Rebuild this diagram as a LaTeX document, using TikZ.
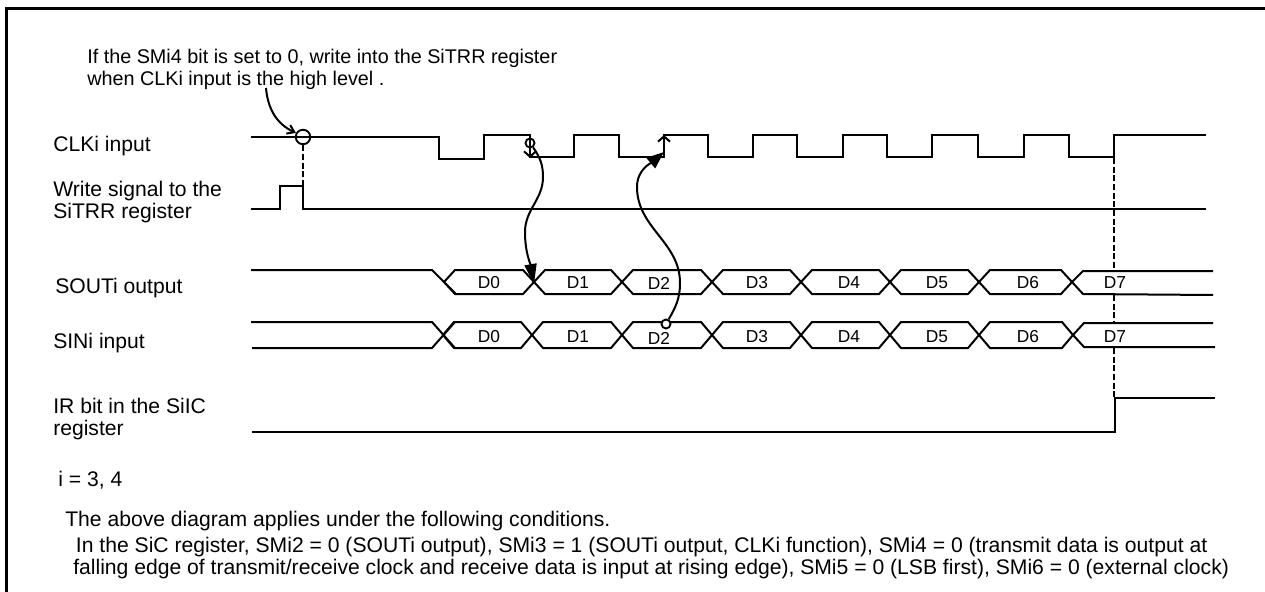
\documentclass[tikz,border=0pt]{standalone}
\usepackage{fontspec}
\setmainfont{Liberation Sans}
\usetikzlibrary{arrows.meta}
\tikzset{
  sig/.style={line width=1.6pt},
  bus/.style={line width=1.5pt, line join=miter},
  wave/.style={line width=1.5pt},
  guide/.style={line width=1.3pt, dash pattern=on 4.5pt off 2pt},
  txt/.style={inner sep=0pt, anchor=north west, align=left, font=\fontsize{15.85}{16.3}\selectfont},
  notetxt/.style={txt, font=\fontsize{14.85}{16.3}\selectfont},
  datatxt/.style={inner sep=0pt, font=\fontsize{13}{15}\selectfont},
  ring/.style={draw, circle, line width=1.4pt, inner sep=0pt, minimum size=#1}
}
\begin{document}
\begin{tikzpicture}[x=0.75pt, y=-0.75pt]
\useasboundingbox (0,0) rectangle (1265,592);
\draw[line width=2.4pt] (6.5,592) -- (6.5,8.5) -- (1265,8.5);

% labels
\node[notetxt] (note) at (87,49) {If the SMi4 bit is set to 0, write into the SiTRR register\\when CLKi input is the high level .};
\node[txt] (clklbl) at (53,136) {CLKi input};
\node[txt] (wrlbl) at (53,181) {Write signal to the\\SiTRR register};
\node[txt] (soutlbl) at (55,278) {SOUTi output};
\node[txt] (sinlbl) at (53,333) {SINi input};
\node[txt] (irlbl) at (53,398) {IR bit in the SiIC\\register};
\node[txt] (ilbl) at (58,471) {i = 3, 4};
\node[txt] (cond) at (65,511) {The above diagram applies under the following conditions.};
\node[txt] (condb) at (73,537) {\hspace{2pt}In the SiC register, SMi2 = 0 (SOUTi output), SMi3 = 1 (SOUTi output, CLKi function), SMi4 = 0 (transmit data is output at\\falling edge of transmit/receive clock and receive data is input at rising edge), SMi5 = 0 (LSB first), SMi6 = 0 (external clock)};

% CLKi and write signal
\draw[sig] (251,137) -| (439,159) -| (484,135) -| (530,157) -| (574,135) -| (619,157) -| (664,135)
  -| (708,157) -| (753,135) -| (797,157) -| (843,135) -| (887,157) -| (932,135) -| (978,157)
  -| (1024,135) -| (1069,157) -| (1114,135) -- (1206,135);
\draw[sig] (251,209) -| (280,186) -| (303,209) -- (1206,209);
\draw[sig] (252,432) -| (1115,398) -- (1215,398);

% SOUTi
\draw[bus] (251,270) -- (432,270) -- (456,294);
\foreach \xa/\xb in {444/534,534/622,622/712,712/801,801/890,890/979,979/1072}
  \draw[bus] (\xa,282) -- (\xa+11,270) -- (\xb-11,270) -- (\xb,282) -- (\xb-11,294) -- (\xa+11,294) -- cycle;
\draw[bus] (1213,271) -- (1083,271) -- (1072,282) -- (1083,294) -- (1213,295);

% SINi
\draw[bus] (251,322) -- (432,322) -- (455,348);
\draw[bus] (252,348) -- (432,348) -- (455,322);
\foreach \xa/\xb in {443/532,532/622,622/712,712/801,801/890,890/979,979/1073}
  \draw[bus] (\xa,335) -- (\xa+11,322) -- (\xb-11,322) -- (\xb,335) -- (\xb-11,348) -- (\xa+11,348) -- cycle;
\draw[bus] (1213,323) -- (1084,323) -- (1073,335) -- (1084,347) -- (1215,347);

% data bits
\foreach \d/\xc/\yb/\yc in {0/489/283/337,1/578/283/337,2/659/283/338,3/757/283/337,4/849/283/337,5/937/283/337,6/1028/283/337,7/1115/283/337} {
  \node[datatxt] (out\d) at (\xc,\yb) {D\d};
  \node[datatxt] (in\d) at (\xc,\yc) {D\d};
}

% dashed guide lines
\coordinate (gclk) at (1114,158);
\coordinate (gouta) at (1114,270);
\coordinate (goutb) at (1114,295);
\coordinate (gina) at (1114,322);
\coordinate (ginb) at (1114,348);
\coordinate (gir) at (1114,398);
\draw[guide] (gclk) -- (gouta) (goutb) -- (gina) (ginb) -- (gir);

% write point
\node[ring=14.5*0.75pt] (ringw) at (303,137) {};
\coordinate (wtop) at (303,186);
\draw[guide] (ringw) -- (wtop);
\coordinate (notefoot) at (266,88);
\draw[wave, -{Straight Barb[length=5pt,width=7pt]}] (notefoot) to[out=-85,in=155] (ringw.150);

% shift and latch edges
\node[ring=9*0.75pt] (ringa) at (530,143) {};
\coordinate (edgea) at (530,158);
\draw[wave, -{Straight Barb[length=4pt,width=9pt]}] (ringa) -- (edgea);
\coordinate (wa) at (543,177);
\coordinate (wb) at (525,232);
\coordinate (tipa) at (534,284);
\draw[wave, -{Triangle[length=15pt,width=9pt]}] (ringa) to[out=-55,in=90] (wa) to[out=-90,in=90] (wb) to[out=-90,in=100] (tipa);
\node[ring=9*0.75pt, fill=white] (ringb) at (666,324) {};
\coordinate (wc) at (680,283);
\coordinate (wd) at (637,187);
\coordinate (tipb) at (664,152);
\draw[wave, -{Triangle[length=13pt,width=10pt]}] (ringb) to[out=60,in=-90] (wc) to[out=90,in=-90] (wd) to[out=90,in=220] (tipb);
\coordinate (edgeb) at (664,135);
\draw[wave, -{Straight Barb[length=4pt,width=9pt]}] (tipb) -- (edgeb);
\end{tikzpicture}
\end{document}
